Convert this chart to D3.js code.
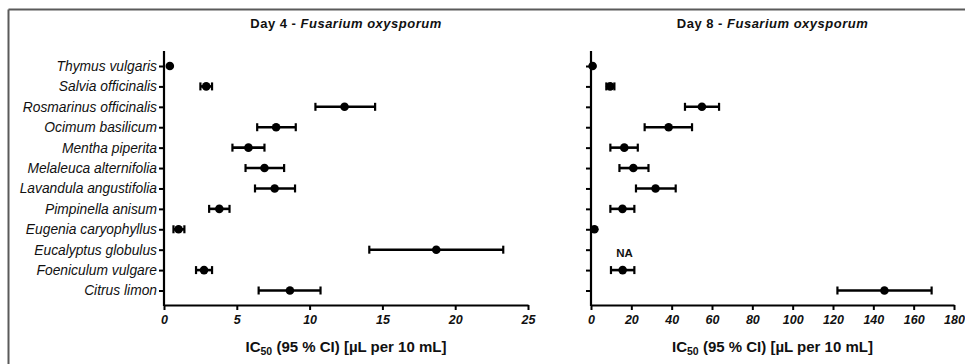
<!DOCTYPE html>
<html>
<head>
<meta charset="utf-8">
<script src="https://cdn.jsdelivr.net/npm/d3@7"></script>
<style>
  html, body { margin: 0; padding: 0; background: #fff; }
  svg { display: block; font-family: "Liberation Sans", Arial, sans-serif; }
</style>
</head>
<body>
<svg id="chart" width="965" height="364"></svg>
<script>
// ---- data ----
const categories = [
  "Thymus vulgaris", "Salvia officinalis", "Rosmarinus officinalis", "Ocimum basilicum",
  "Mentha piperita", "Melaleuca alternifolia", "Lavandula angustifolia", "Pimpinella anisum",
  "Eugenia caryophyllus", "Eucalyptus globulus", "Foeniculum vulgare", "Citrus limon"
];
// Day 4 IC50 with 95% CI
const day4Value = [0.4, 2.9, 12.4, 7.7, 5.8, 6.9, 7.6, 3.8, 1.0, 18.7, 2.75, 8.65];
const day4Low   = [0.4, 2.5, 10.4, 6.4, 4.7, 5.6, 6.25, 3.1, 0.65, 14.1, 2.2, 6.5];
const day4High  = [0.4, 3.3, 14.5, 9.05, 6.9, 8.25, 9.0, 4.5, 1.4, 23.3, 3.3, 10.75];
// Day 8 IC50 with 95% CI (null = not available)
const day8Value = [0.8, 9.5, 55.0, 38.5, 16.5, 21.0, 32.0, 15.6, 1.7, null, 15.7, 145.5];
const day8Low   = [0.8, 7.6, 46.6, 26.6, 9.6, 14.1, 22.3, 9.6, 1.7, null, 9.9, 122.2];
const day8High  = [0.8, 11.6, 63.5, 50.1, 23.2, 28.5, 42.0, 21.5, 1.7, null, 21.5, 168.9];
const day4Ticks = [0, 5, 10, 15, 20, 25];
const day8Ticks = [0, 20, 40, 60, 80, 100, 120, 140, 160, 180];
const naLabel = "NA";
const titleDay4 = ["Day 4 - ", "Fusarium oxysporum"];
const titleDay8 = ["Day 8 - ", "Fusarium oxysporum"];

const svg = d3.select("#chart");

// frame (top + left border)
svg.append("line").attr("x1", 8.5).attr("x2", 965).attr("y1", 9.5).attr("y2", 9.5)
  .attr("stroke", "#5a5a5a").attr("stroke-width", 2);
svg.append("line").attr("x1", 8.5).attr("x2", 8.5).attr("y1", 9.5).attr("y2", 364)
  .attr("stroke", "#5a5a5a").attr("stroke-width", 2);

const yScale = d3.scalePoint().domain(categories).range([66, 290.5]);
const axisTop = 51, axisBottom = 305;

function panel(opts) {
  const x = d3.scaleLinear().domain(opts.domain).range(opts.range);
  const g = svg.append("g");

  // title
  const cx = (opts.range[0] + opts.range[1]) / 2;
  const t = g.append("text").attr("x", cx).attr("y", 27.5).attr("text-anchor", "middle")
    .attr("font-size", 13).attr("font-weight", "bold").attr("letter-spacing", 0.5).attr("fill", "#111");
  t.append("tspan").text(opts.title[0]);
  t.append("tspan").attr("font-style", "italic").text(opts.title[1]);

  // y axis
  const yAxis = d3.axisLeft(yScale).tickSize(5).tickPadding(2)
    .tickFormat(opts.showLabels ? (d => d) : (() => ""));
  const ya = g.append("g").attr("transform", `translate(${opts.range[0]},0)`).call(yAxis);
  ya.select(".domain").remove();
  ya.selectAll(".tick line").attr("stroke", "#000").attr("stroke-width", 2);
  ya.selectAll(".tick text").attr("font-size", 13.8).attr("font-style", "italic")
    .attr("fill", "#111").attr("font-family", "'Liberation Sans', Arial, sans-serif");
  g.append("line").attr("x1", opts.range[0]).attr("x2", opts.range[0])
    .attr("y1", axisTop).attr("y2", axisBottom + 1).attr("stroke", "#000").attr("stroke-width", 2.2);

  // x axis
  const xAxis = d3.axisBottom(x).tickValues(opts.ticks).tickSize(5).tickPadding(5).tickSizeOuter(0);
  const xa = g.append("g").attr("transform", `translate(0,${axisBottom})`).call(xAxis);
  xa.select(".domain").attr("stroke", "#000").attr("stroke-width", 2.2);
  xa.selectAll(".tick line").attr("stroke", "#000").attr("stroke-width", 2);
  xa.selectAll(".tick text").attr("font-size", 12.5).attr("font-weight", "bold")
    .attr("font-style", "italic").attr("fill", "#111")
    .attr("font-family", "'Liberation Sans', Arial, sans-serif");

  // x axis title
  const at = g.append("text").attr("x", cx).attr("y", 351.5).attr("text-anchor", "middle")
    .attr("font-size", 15).attr("font-weight", "bold").attr("fill", "#111");
  at.append("tspan").text("IC");
  at.append("tspan").attr("font-size", 10.5).attr("dy", 3).text("50");
  at.append("tspan").attr("dy", -3).text(" (95 % CI) [µL per 10 mL]");

  // error bars + points
  const rows = categories.map((c, i) => ({ c, v: opts.value[i], lo: opts.low[i], hi: opts.high[i] }));
  const valid = rows.filter(r => r.v !== null);
  const eb = g.append("g").selectAll("g").data(valid).join("g");
  eb.filter(r => r.hi > r.lo).each(function (r) {
    const s = d3.select(this), y = yScale(r.c);
    s.append("line").attr("x1", x(r.lo)).attr("x2", x(r.hi)).attr("y1", y).attr("y2", y)
      .attr("stroke", "#000").attr("stroke-width", 2.6);
    [r.lo, r.hi].forEach(v => s.append("line").attr("x1", x(v)).attr("x2", x(v))
      .attr("y1", y - 4).attr("y2", y + 4).attr("stroke", "#000").attr("stroke-width", 2.2));
  });
  eb.append("circle").attr("cx", r => x(r.v)).attr("cy", r => yScale(r.c)).attr("r", 4.3).attr("fill", "#000");

  // NA labels
  rows.filter(r => r.v === null).forEach(r => {
    g.append("text").attr("x", opts.naX).attr("y", yScale(r.c) + 7).attr("text-anchor", "middle")
      .attr("font-size", 11.5).attr("font-weight", "bold").attr("fill", "#111").text(naLabel);
  });
}

panel({ domain: [0, 25], range: [164, 528], ticks: day4Ticks, title: titleDay4, showLabels: true,
        value: day4Value, low: day4Low, high: day4High });
panel({ domain: [0, 180], range: [591, 954], ticks: day8Ticks, title: titleDay8, showLabels: false,
        value: day8Value, low: day8Low, high: day8High, naX: 624.5 });
</script>
</body>
</html>
